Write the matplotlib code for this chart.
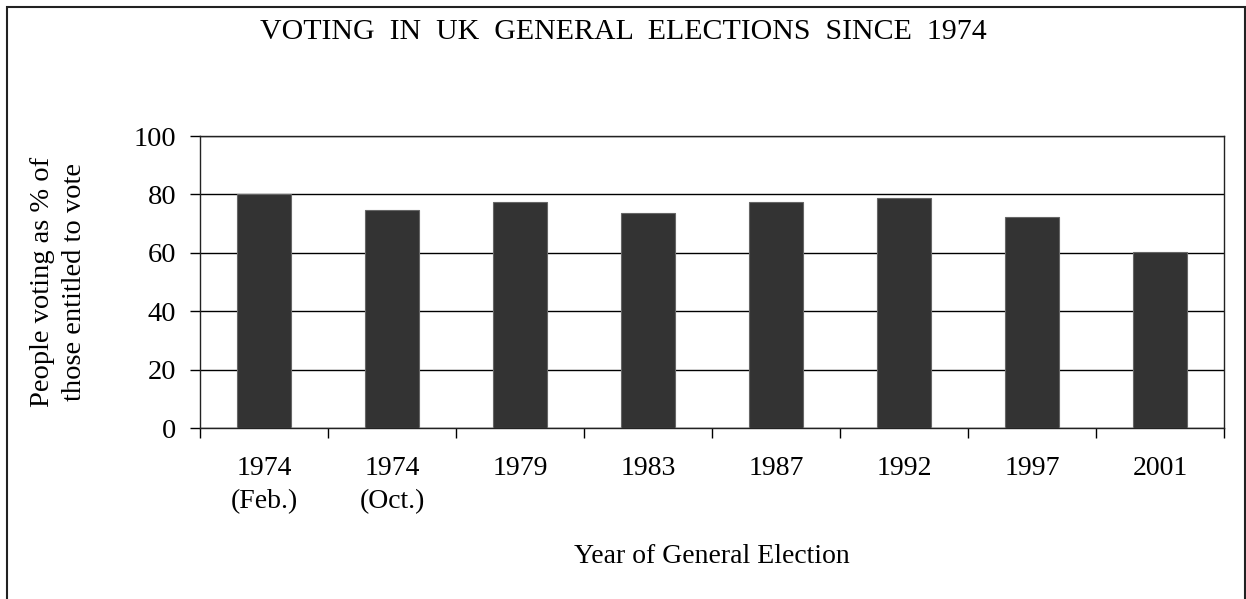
import numpy as np
import matplotlib.pyplot as plt
from matplotlib.patches import Rectangle

# Data
years = ['1974\n(Feb.)', '1974\n(Oct.)', '1979', '1983', '1987', '1992', '1997', '2001']
turnout = [80.2, 74.8, 77.4, 73.6, 77.4, 78.8, 72.4, 60.3]
y_ticks = [0, 20, 40, 60, 80, 100]

plt.rcParams['font.family'] = ['Liberation Serif', 'DejaVu Serif']

fig = plt.figure(figsize=(12.46, 5.99), dpi=100)
ax = fig.add_axes([200 / 1246, 171 / 599, 1024 / 1246, 292 / 599])

x = np.arange(len(years))
ax.bar(x, turnout, width=0.42, color='#333333', edgecolor='#666666', linewidth=0.8, zorder=3)

ax.set_xlim(-0.5, len(years) - 0.5)
ax.set_ylim(0, 100)
ax.set_yticks(y_ticks)
ax.yaxis.grid(True, color='black', linewidth=1.0, zorder=1)
ax.tick_params(axis='y', direction='out', length=7, width=1, labelsize=20.5, pad=10, colors='black')

ax.set_xticks(x)
ax.set_xticklabels(years, fontsize=20, linespacing=1.45, va='top')
ax.tick_params(axis='x', which='major', length=0, pad=20)
ax.set_xticks(np.arange(-0.5, len(years)), minor=True)
ax.tick_params(axis='x', which='minor', direction='out', length=7, width=1)

for s in ax.spines.values():
    s.set_color('#222222')
    s.set_linewidth(1.0)

ax.set_xlabel('Year of General Election', fontsize=20, labelpad=21)
ax.set_ylabel('People voting as % of\nthose entitled to vote', fontsize=20.5, labelpad=34,
              linespacing=1.35)

fig.text(0.5, 1 - 32 / 599, 'VOTING  IN  UK  GENERAL  ELECTIONS  SINCE  1974',
         ha='center', va='center', fontsize=21.5)

# outer frame
fig.patches.append(Rectangle((7 / 1246, -0.05), (1245 - 7) / 1246, 1.05 - 7 / 599,
                             transform=fig.transFigure, fill=False,
                             edgecolor='#222222', linewidth=1.5))

fig.savefig('out.png', dpi=100)
